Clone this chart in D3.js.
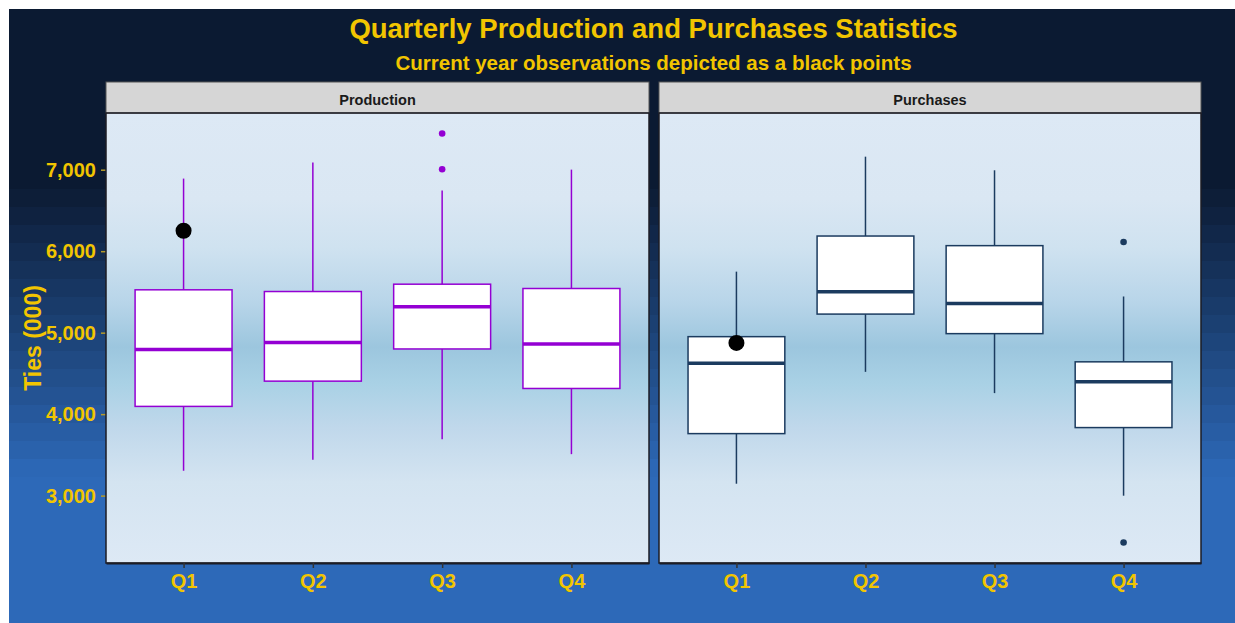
<!DOCTYPE html>
<html>
<head>
<meta charset="utf-8">
<title>Quarterly Production and Purchases Statistics</title>
<script src="https://d3js.org/d3.v7.min.js"></script>
<style>
  body { margin: 0; background: #fff; }
  svg text { font-family: "Liberation Sans", Arial, sans-serif; font-weight: bold; }
  .title { fill: #f2c500; text-anchor: middle; }
  .tick-label { fill: #f2c500; }
  .strip-text { fill: #1a1a1a; text-anchor: middle; font-size: 14.5px; }
</style>
</head>
<body>
<div id="chart"></div>
<script>
// categories and panels
const quarters = ["Q1", "Q2", "Q3", "Q4"];
const panels = ["Production", "Purchases"];

// box statistics (thousands of ties), per quarter
const prodLow    = [3305, 3440, 3692, 3509];
const prodQ1     = [4095, 4405, 4800, 4315];
const prodMedian = [4792, 4878, 5318, 4861];
const prodQ3     = [5526, 5505, 5595, 5542];
const prodHigh   = [6891, 7087, 6744, 7001];
const prodOutliers = [[], [], [7445, 7005], []];
const prodCurrent  = [6251, null, null, null];

const purLow    = [3146, 4519, 4258, 2999];
const purQ1     = [3761, 5228, 4988, 3835];
const purMedian = [4625, 5501, 5358, 4397];
const purQ3     = [4951, 6186, 6068, 4642];
const purHigh   = [5749, 7160, 6993, 5444];
const purOutliers = [[], [], [], [6112, 2424]];
const purCurrent  = [4874, null, null, null];

const yTicks = [3000, 4000, 5000, 6000, 7000];

const W = 1235, H = 623;
const panelTop = 113, panelBottom = 563, stripTop = 82;
const panelX = [[106, 649], [659, 1201]];
const colors = ["#9400d3", "#1b3b5f"];

const svg = d3.select("#chart").append("svg")
  .attr("width", W).attr("height", H);

const defs = svg.append("defs");

// outer background: dark navy to blue, in bands
const bg = svg.append("g");
const bandCol = d3.scaleLinear().domain([185, 475]).range(["#0b1a32", "#2d69b8"]).clamp(true);
const bandEdges = d3.range(9, H, 18);
bandEdges.forEach(y => {
  bg.append("rect").attr("x", 9).attr("y", y).attr("width", W - 9).attr("height", 19)
    .attr("fill", bandCol(y + 9));
});

// panel background gradient
const pg = defs.append("linearGradient").attr("id", "panelGrad")
  .attr("x1", 0).attr("y1", 0).attr("x2", 0).attr("y2", 1);
[[0, "#dde9f5"], [0.19, "#dae7f3"], [0.3, "#cfe2f0"], [0.42, "#b8d5e9"], [0.52, "#9cc6de"],
 [0.6, "#a9d1e5"], [0.7, "#c0d8eb"], [0.82, "#d4e4f1"], [1, "#dde9f5"]]
  .forEach(s => pg.append("stop").attr("offset", s[0]).attr("stop-color", s[1]));

const y = d3.scaleLinear().domain([2173, 7696]).range([panelBottom, panelTop]);

// titles
svg.append("text").attr("class", "title").attr("x", 653.5).attr("y", 38)
  .style("font-size", "27.5px").text("Quarterly Production and Purchases Statistics");
svg.append("text").attr("class", "title").attr("x", 653.5).attr("y", 70)
  .style("font-size", "20.5px").text("Current year observations depicted as a black points");

// y axis title
svg.append("text").attr("class", "title")
  .attr("transform", `translate(40.5,${(panelTop + panelBottom) / 2}) rotate(-90)`)
  .style("font-size", "23px").text("Ties (000)");

// y axis (left panel only)
const yAxis = svg.append("g").attr("transform", `translate(${panelX[0][0]},0)`)
  .call(d3.axisLeft(y).tickValues(yTicks).tickSize(5).tickPadding(5).tickFormat(d3.format(",")));
yAxis.select(".domain").remove();
yAxis.selectAll(".tick line").attr("stroke", "#b59a2a").attr("stroke-width", 1.5);
yAxis.selectAll(".tick text").attr("class", "tick-label").style("font-size", "20px")
  .attr("fill", "#f2c500").attr("font-family", null);

const stats = [
  { low: prodLow, q1: prodQ1, med: prodMedian, q3: prodQ3, high: prodHigh, out: prodOutliers, cur: prodCurrent },
  { low: purLow, q1: purQ1, med: purMedian, q3: purQ3, high: purHigh, out: purOutliers, cur: purCurrent }
];

panels.forEach((name, p) => {
  const [x0, x1] = panelX[p];
  const x = d3.scalePoint().domain(quarters).range([x0, x1]).padding(0.6);
  const bw = x.step() * 0.75;
  const col = colors[p];
  const s = stats[p];
  const g = svg.append("g");

  g.append("rect").attr("x", x0).attr("y", panelTop).attr("width", x1 - x0)
    .attr("height", panelBottom - panelTop).attr("fill", "url(#panelGrad)");

  // strip
  g.append("rect").attr("x", x0).attr("y", stripTop).attr("width", x1 - x0)
    .attr("height", panelTop - stripTop).attr("fill", "#d6d6d6")
    .attr("stroke", "#555").attr("stroke-width", 1);
  g.append("text").attr("class", "strip-text").attr("x", (x0 + x1) / 2).attr("y", 104.5).text(name);

  // boxes
  quarters.forEach((q, i) => {
    const cx = x(q);
    g.append("line").attr("x1", cx).attr("x2", cx).attr("y1", y(s.high[i])).attr("y2", y(s.q3[i]))
      .attr("stroke", col).attr("stroke-width", 1.5);
    g.append("line").attr("x1", cx).attr("x2", cx).attr("y1", y(s.q1[i])).attr("y2", y(s.low[i]))
      .attr("stroke", col).attr("stroke-width", 1.5);
    g.append("rect").attr("x", cx - bw / 2).attr("y", y(s.q3[i])).attr("width", bw)
      .attr("height", y(s.q1[i]) - y(s.q3[i])).attr("fill", "#fff")
      .attr("stroke", col).attr("stroke-width", 1.5);
    g.append("line").attr("x1", cx - bw / 2).attr("x2", cx + bw / 2)
      .attr("y1", y(s.med[i])).attr("y2", y(s.med[i]))
      .attr("stroke", col).attr("stroke-width", 3.5);
    s.out[i].forEach(v => {
      g.append("circle").attr("cx", cx).attr("cy", y(v)).attr("r", 3.3).attr("fill", col);
    });
    if (s.cur[i] != null) {
      g.append("circle").attr("cx", cx).attr("cy", y(s.cur[i])).attr("r", 8).attr("fill", "#000");
    }
  });

  // panel border
  g.append("rect").attr("x", x0).attr("y", panelTop).attr("width", x1 - x0)
    .attr("height", panelBottom - panelTop).attr("fill", "none")
    .attr("stroke", "#1c1c24").attr("stroke-width", 1.5);

  // x axis
  const xAxis = g.append("g").attr("transform", `translate(0,${panelBottom})`)
    .call(d3.axisBottom(x).tickSize(5).tickSizeOuter(0).tickPadding(6));
  xAxis.select(".domain").attr("stroke", "#1c1c24").attr("stroke-width", 2);
  xAxis.selectAll(".tick line").attr("stroke", "#333").attr("stroke-width", 1.5);
  xAxis.selectAll(".tick text").style("font-size", "20px").attr("fill", "#f2c500")
    .attr("font-family", null);
});
</script>
</body>
</html>
